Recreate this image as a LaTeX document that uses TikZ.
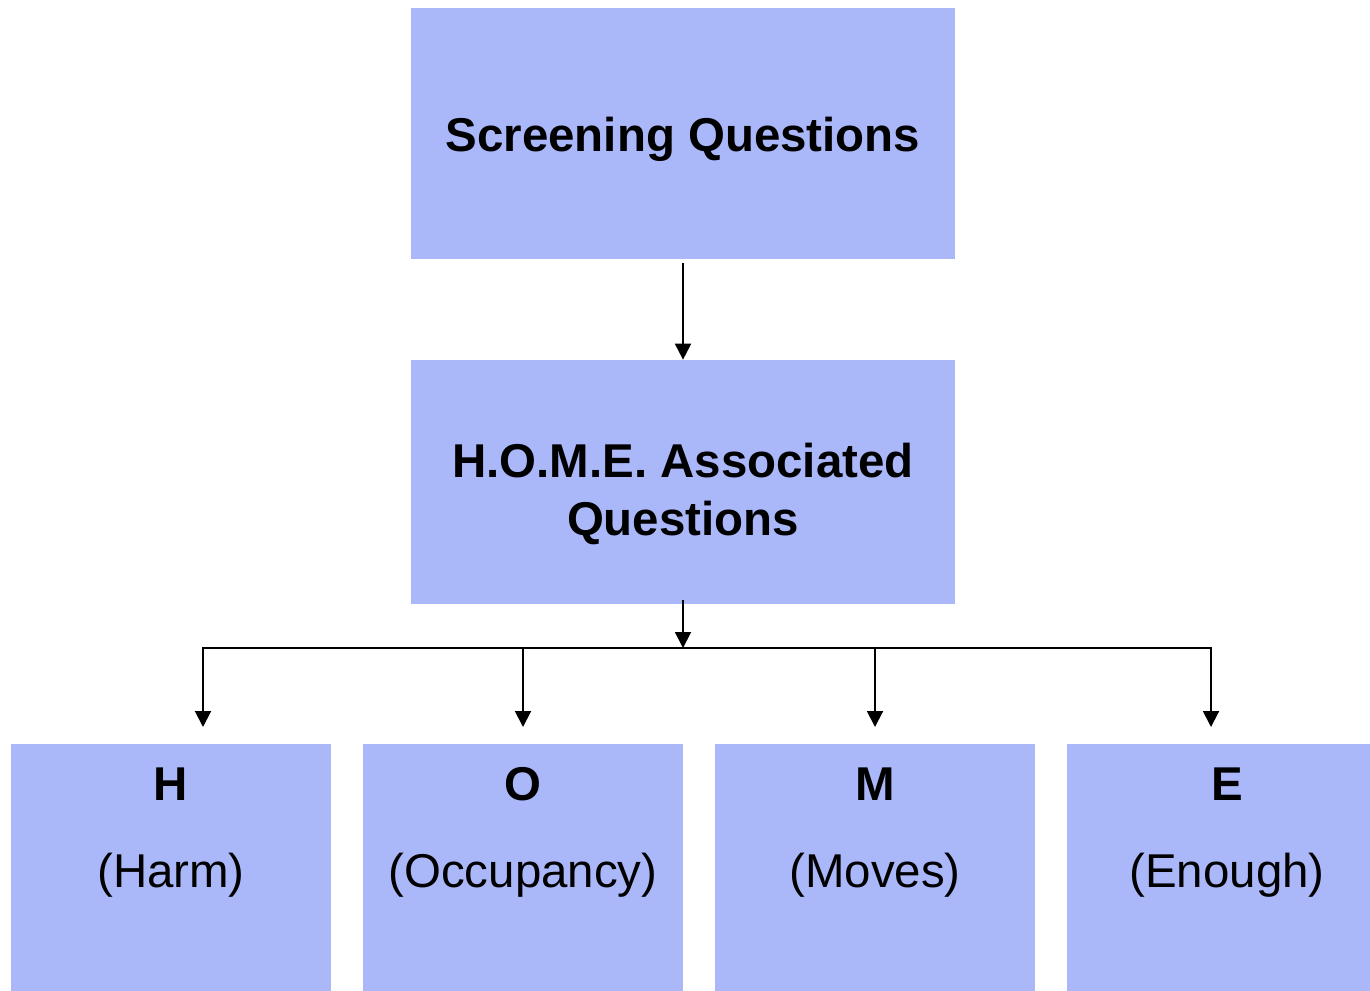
\documentclass[tikz,border=0pt]{standalone}
\usepackage{fontspec}
\setmainfont{Liberation Sans}
\usepackage{xcolor}
\usepackage{tikz}
\usetikzlibrary{arrows.meta}
\definecolor{boxblue}{RGB}{170,184,250}
\tikzset{>={Triangle[width=0.32cm,length=0.32cm]}}
\newcommand{\diagfont}{\fontsize{27}{33}\selectfont}
\tikzset{
	box/.style={fill=boxblue,inner sep=0pt,minimum width=10.88cm,align=center,font=\diagfont\bfseries},
	leaf/.style={fill=boxblue,inner sep=0pt,minimum width=6.4cm,minimum height=5cm,anchor=north},
	letter/.style={anchor=base,inner sep=0pt,font=\diagfont\bfseries},
	word/.style={anchor=base,inner sep=0pt,font=\diagfont},
	conn/.style={line width=1.1pt}
}

\begin{document}
\begin{tikzpicture}
	\clip (0,0) rectangle (27.4,-19.8);
	\node[box,minimum height=5.02cm,text height=21pt,text depth=0pt] (screening) at (13.66,-2.67) {Screening Questions};
	\node[box,minimum height=4.88cm,text height=61pt,text depth=0pt] (home) at (13.66,-9.64) {H.O.M.E. Associated\\Questions};
	\node[leaf] (harm) at (3.42,-14.88) {};
	\node[leaf] (occupancy) at (10.46,-14.88) {};
	\node[leaf] (moves) at (17.5,-14.88) {};
	\node[leaf] (enough) at (24.54,-14.88) {};
	\node[letter] (harmletter) at (3.42,-16) {H};
	\node[letter] (occupancyletter) at (10.46,-16) {O};
	\node[letter] (movesletter) at (17.5,-16) {M};
	\node[letter] (enoughletter) at (24.54,-16) {E};
	\node[word] (harmword) at (3.42,-17.74) {(Harm)};
	\node[word] (occupancyword) at (10.46,-17.74) {(Occupancy)};
	\node[word] (movesword) at (17.5,-17.74) {(Moves)};
	\node[word] (enoughword) at (24.54,-17.74) {(Enough)};
	\coordinate (split) at (13.66,-12.96);
	\draw[conn,->,shorten <=0.08cm] (screening) -- (home);
	\draw[conn,->] ([yshift=0.08cm]home.south) -- (split);
	\draw[conn,->,shorten >=0.34cm] (split) -| ([xshift=0.64cm]harm.north);
	\draw[conn,->,shorten >=0.34cm] (split) -| (occupancy.north);
	\draw[conn,->,shorten >=0.34cm] (split) -| (moves.north);
	\draw[conn,->,shorten >=0.34cm] (split) -| ([xshift=-0.32cm]enough.north);
\end{tikzpicture}
\end{document}
